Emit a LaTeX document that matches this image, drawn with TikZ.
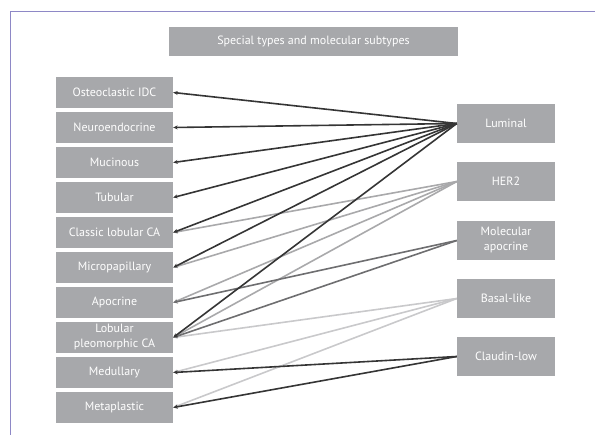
\documentclass[tikz,border=0pt]{standalone}
\usepackage{fontspec}
\setmainfont{PT Sans}
\usetikzlibrary{arrows.meta}
\definecolor{boxgray}{HTML}{A7A8AB}
\definecolor{framepurple}{HTML}{8E88C6}
\definecolor{linkdark}{HTML}{353535}
\definecolor{linkmid}{HTML}{6E6E70}
\definecolor{linklight}{HTML}{A9A9AB}
\definecolor{linkpale}{HTML}{C9C9CB}
\tikzset{
  box/.style={fill=boxgray, text=white, inner sep=0pt, align=center,
    font=\fontsize{12}{15}\selectfont},
  leftbox/.style={box, minimum width=117pt, minimum height=30.5pt},
  rightbox/.style={box, minimum width=98pt, minimum height=39pt},
  link/.style={line width=1.6pt, {Stealth[length=4.5pt,width=4pt]}-},
}
\begin{document}
\begin{tikzpicture}[x=1pt,y=-1pt]
  \useasboundingbox (0,0) rectangle (595,435);
  % frame edges
  \draw[framepurple, line width=0.9pt] (10,435) -- (10,11) -- (595,11);
  % title
  \node[box, minimum width=289pt, minimum height=29pt] (title) at (313.5,41.5)
    {Special types and molecular subtypes};
  % special types
  \node[leftbox] (osteo) at (114.5,92.5) {Osteoclastic IDC};
  \node[leftbox] (neuro) at (114.5,127.5) {Neuroendocrine};
  \node[leftbox] (muc) at (114.5,162.5) {Mucinous};
  \node[leftbox] (tub) at (114.5,197.5) {Tubular};
  \node[leftbox] (clob) at (114.5,232.5) {Classic lobular CA};
  \node[leftbox] (micro) at (114.5,267.5) {Micropapillary};
  \node[leftbox] (apo) at (114.5,302.5) {Apocrine};
  \node[leftbox] (plob) at (114.5,337.5) {Lobular\\pleomorphic CA};
  \node[leftbox] (med) at (114.5,372.5) {Medullary};
  \node[leftbox] (meta) at (114.5,407.5) {Metaplastic};
  % molecular subtypes
  \node[rightbox] (lum) at (506,123.5) {Luminal};
  \node[rightbox] (her) at (506,181.5) {HER2};
  \node[rightbox] (mapo) at (506,240.5) {Molecular\\apocrine};
  \node[rightbox] (basal) at (506,298.5) {Basal-like};
  \node[rightbox] (claud) at (506,356.5) {Claudin-low};
  % links
  \foreach \t in {plob,med,meta}
    \draw[link, linkpale] (\t.east) -- (basal.west);
  \foreach \t in {clob,micro,apo,plob}
    \draw[link, linklight] (\t.east) -- (her.west);
  \foreach \t in {apo,plob}
    \draw[link, linkmid] (\t.east) -- (mapo.west);
  \foreach \t in {osteo,neuro,muc,tub,clob,micro,plob}
    \draw[link, linkdark] (\t.east) -- (lum.west);
  \foreach \t in {med,meta}
    \draw[link, linkdark] (\t.east) -- (claud.west);
\end{tikzpicture}
\end{document}
